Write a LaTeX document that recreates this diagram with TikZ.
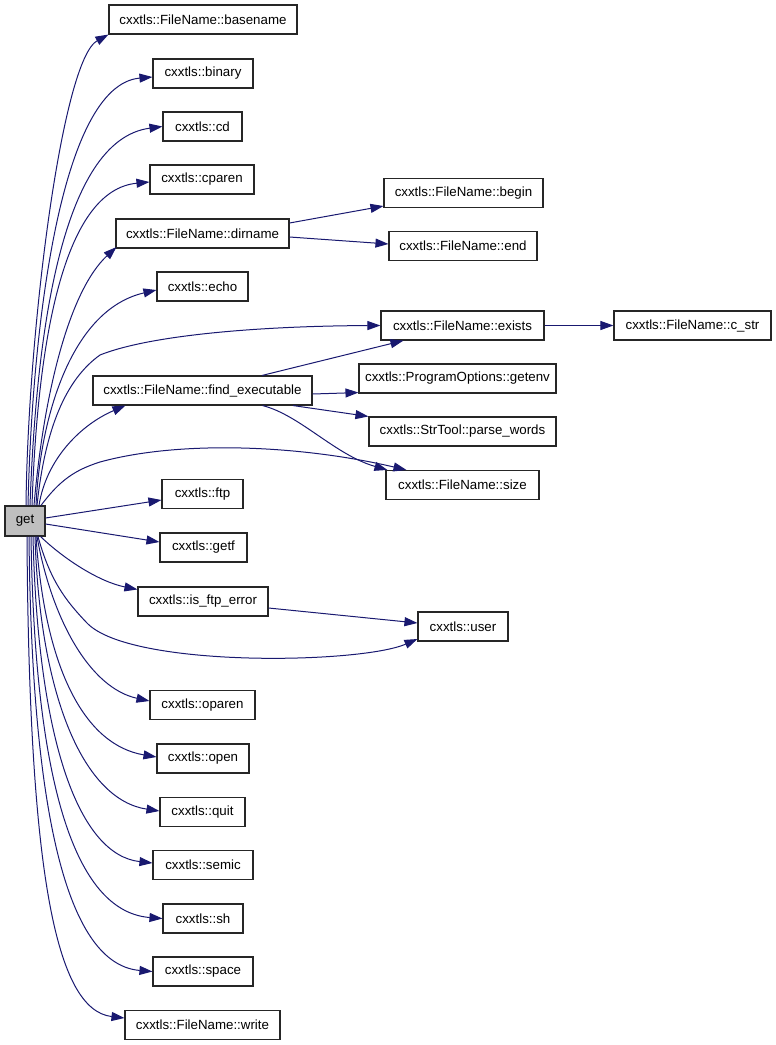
\documentclass[tikz,border=0pt]{standalone}
\usepackage{fontspec}
\setmainfont{Liberation Sans}
\usetikzlibrary{arrows.meta}
\definecolor{edgecol}{RGB}{25,25,112}
\definecolor{getfill}{RGB}{191,191,191}
\begin{document}
\begin{tikzpicture}[x=1pt,y=-1pt,
  box/.style={draw=black!85, line width=1.1pt, fill=white, minimum height=29pt, inner sep=0pt, font=\fontsize{13.3}{16}\selectfont},
  edge/.style={draw=edgecol, line width=1pt, -{Triangle[length=13pt,width=9pt]}}]
\useasboundingbox (0,0) rectangle (776,1045);
% nodes
\node[box, minimum width=188pt] (basename) at (203,19.5) {cxxtls::FileName::basename};
\node[box, minimum width=100pt] (binary) at (203,73.5) {cxxtls::binary};
\node[box, minimum width=79pt] (cd) at (202.5,126.5) {cxxtls::cd};
\node[box, minimum width=104pt] (cparen) at (202,179.5) {cxxtls::cparen};
\node[box, minimum width=173pt] (dirname) at (202.5,233.5) {cxxtls::FileName::dirname};
\node[box, minimum width=91pt] (echo) at (202.5,286.5) {cxxtls::echo};
\node[box, minimum width=219pt] (findexe) at (202.5,390.5) {cxxtls::FileName::find\_executable};
\node[box, minimum width=81pt] (ftp) at (202.5,494) {cxxtls::ftp};
\node[box, minimum width=87pt] (getf) at (203.5,547.5) {cxxtls::getf};
\node[box, minimum width=130pt] (isftp) at (203,601.5) {cxxtls::is\_ftp\_error};
\node[box, minimum width=105pt] (oparen) at (202.5,705) {cxxtls::oparen};
\node[box, minimum width=92pt] (open) at (203,758.5) {cxxtls::open};
\node[box, minimum width=85pt] (quit) at (202.5,812) {cxxtls::quit};
\node[box, minimum width=100pt] (semic) at (203,865) {cxxtls::semic};
\node[box, minimum width=80pt] (sh) at (203,918.5) {cxxtls::sh};
\node[box, minimum width=100pt] (space) at (203,971.5) {cxxtls::space};
\node[box, minimum width=155pt] (write) at (202.5,1025) {cxxtls::FileName::write};
\node[box, minimum width=159pt] (begin) at (463.5,193) {cxxtls::FileName::begin};
\node[box, minimum width=148pt] (fnend) at (463,246) {cxxtls::FileName::end};
\node[box, minimum width=163pt] (exists) at (462.5,325.5) {cxxtls::FileName::exists};
\node[box, minimum width=197pt] (getenv) at (457.5,378.5) {cxxtls::ProgramOptions::getenv};
\node[box, minimum width=187pt] (parse) at (462.5,431.5) {cxxtls::StrTool::parse\_words};
\node[box, minimum width=153pt] (size) at (462.5,485) {cxxtls::FileName::size};
\node[box, minimum width=90pt] (user) at (463,626.5) {cxxtls::user};
\node[box, minimum width=157pt] (cstr) at (692.5,325.5) {cxxtls::FileName::c\_str};
\node[box, fill=getfill, minimum width=40pt, minimum height=30pt] (get) at (25,521) {get};
% edges upward
\draw[edge] ([xshift=1pt]get.north) .. controls (28,330) and (62,60) .. (basename.south west);
\draw[edge] ([xshift=3pt]get.north) .. controls (32,330) and (60,85) .. ([yshift=-3.5pt]binary.west);
\draw[edge] ([xshift=5pt]get.north) .. controls (36,340) and (60,140) .. (cd.west);
\draw[edge] ([xshift=7pt]get.north) .. controls (38,330) and (66,190) .. ([yshift=-2.5pt]cparen.west);
\draw[edge] ([xshift=9pt]get.north) .. controls (44,390) and (70,290) .. ([xshift=1pt,yshift=1.5pt]dirname.south west);
\draw[edge] ([xshift=11pt]get.north) .. controls (40,420) and (70,310) .. ([yshift=-3.5pt]echo.west);
\draw[edge] ([xshift=12pt]get.north) .. controls (45,430) and (65,380) .. (100,355) .. controls (150,335) and (260,326) .. (exists.west);
\draw[edge] ([xshift=14pt]get.north) .. controls (46,460) and (80,425) .. ([xshift=33pt]findexe.south west);
\draw[edge] ([xshift=16pt]get.north) .. controls (60,480) and (75,470) .. (100,462) .. controls (180,440) and (300,445) .. ([xshift=21pt]size.north west);
% edges sideways
\draw[edge] ([yshift=3pt]get.east) -- ([yshift=-6pt]ftp.west);
\draw[edge] ([yshift=-3pt]get.east) -- ([yshift=5.5pt]getf.west);
\draw[edge] ([xshift=-5pt]get.south east) .. controls (65,560) and (100,582) .. ([yshift=-3pt]isftp.north west);
\draw[edge] ([xshift=13pt]get.south) .. controls (50,580) and (65,600) .. (87,623) .. controls (130,668) and (360,664) .. ([yshift=-12.5pt]user.west);
% edges downward
\draw[edge] ([xshift=12pt]get.south) .. controls (52,620) and (90,688) .. ([yshift=4pt]oparen.west);
\draw[edge] ([xshift=11pt]get.south) .. controls (45,670) and (85,745) .. ([yshift=1.5pt]open.west);
\draw[edge] ([xshift=10pt]get.south) .. controls (40,700) and (85,800) .. ([yshift=1pt]quit.west);
\draw[edge] ([xshift=8pt]get.south) .. controls (38,745) and (80,855) .. ([yshift=2pt]semic.west);
\draw[edge] ([xshift=6pt]get.south) .. controls (35,800) and (80,912) .. (sh.west);
\draw[edge] ([xshift=4pt]get.south) .. controls (32,845) and (75,965) .. (space.west);
\draw[edge] ([xshift=2pt]get.south) .. controls (29,870) and (55,1010) .. ([yshift=7pt]write.west);
% second level
\draw[edge] ([yshift=10.5pt]dirname.east) -- ([yshift=2pt]begin.south west);
\draw[edge] ([yshift=-3.5pt]dirname.east) -- ([yshift=2pt]fnend.west);
\draw[edge] ([xshift=59.5pt]findexe.north) -- ([xshift=23pt]exists.south west);
\draw[edge] ([yshift=-3.5pt]findexe.east) -- ([yshift=1pt]getenv.south west);
\draw[edge] ([xshift=90.5pt]findexe.south) -- (parse.north west);
\draw[edge] ([xshift=60pt]findexe.south) .. controls (300,415) and (335,455) .. ([xshift=2pt]size.north west);
\draw[edge] ([yshift=-6.5pt]isftp.east) -- ([yshift=3.5pt]user.west);
\draw[edge] (exists.east) -- (cstr.west);
\end{tikzpicture}
\end{document}
